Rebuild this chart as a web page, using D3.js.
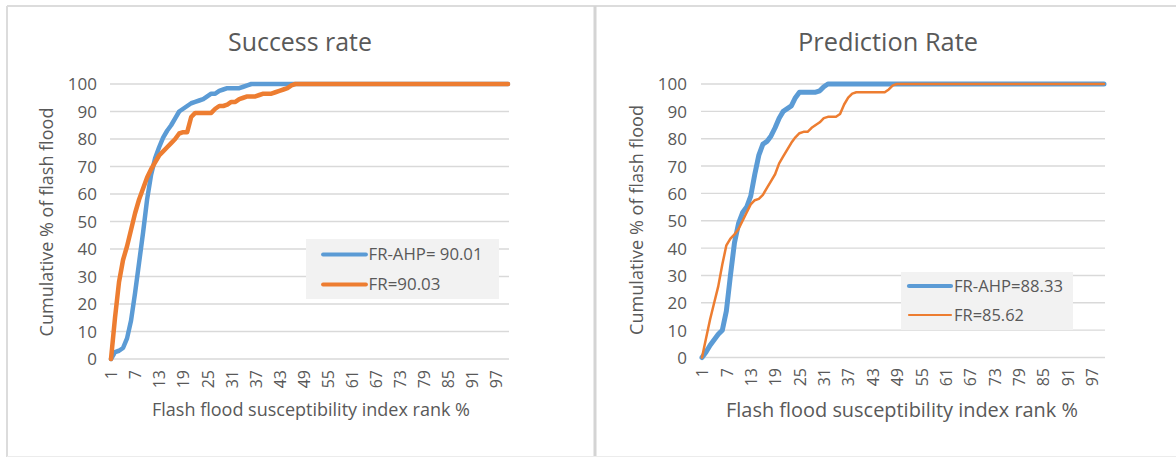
<!DOCTYPE html>
<html>
<head>
<meta charset="utf-8">
<script src="https://cdn.jsdelivr.net/npm/d3@7"></script>
<style>
  body { margin: 0; background: #ffffff; }
  svg { display: block; font-family: "Open Sans", "Noto Sans", sans-serif; }
</style>
</head>
<body>
<svg id="chart" width="1176" height="457"></svg>
<script>
// ---------------- DATA ----------------
const categories = d3.range(1, 101); // flash flood susceptibility index rank %, 1..100
const xTickLabels = [1, 7, 13, 19, 25, 31, 37, 43, 49, 55, 61, 67, 73, 79, 85, 91, 97];
const yTickValues = [0, 10, 20, 30, 40, 50, 60, 70, 80, 90, 100];

const successAHP = [
  0, 2.5, 3, 4, 7.5, 14, 24, 35, 46, 58,
  67, 73, 77, 80.5, 83, 85, 87.5, 90, 91, 92,
  93, 93.5, 94, 94.5, 95.5, 96.5, 96.5, 97.5, 98, 98.5,
  98.5, 98.5, 98.5, 99, 99.5, 100, 100, 100, 100, 100,
  100, 100, 100, 100, 100, 100, 100, 100, 100, 100,
  100, 100, 100, 100, 100, 100, 100, 100, 100, 100,
  100, 100, 100, 100, 100, 100, 100, 100, 100, 100,
  100, 100, 100, 100, 100, 100, 100, 100, 100, 100,
  100, 100, 100, 100, 100, 100, 100, 100, 100, 100,
  100, 100, 100, 100, 100, 100, 100, 100, 100, 100
];
const successFR = [
  0, 15, 28, 36, 41, 47, 53, 58, 62, 66,
  69, 71.5, 74, 75.5, 77, 78.5, 80, 82, 82.5, 82.5,
  88, 89.5, 89.5, 89.5, 89.5, 89.5, 91, 92, 92, 92.5,
  93.5, 93.5, 94.5, 95, 95.5, 95.5, 95.5, 96, 96.5, 96.5,
  96.5, 97, 97.5, 98, 98.5, 99.5, 100, 100, 100, 100,
  100, 100, 100, 100, 100, 100, 100, 100, 100, 100,
  100, 100, 100, 100, 100, 100, 100, 100, 100, 100,
  100, 100, 100, 100, 100, 100, 100, 100, 100, 100,
  100, 100, 100, 100, 100, 100, 100, 100, 100, 100,
  100, 100, 100, 100, 100, 100, 100, 100, 100, 100
];
const predictionAHP = [
  0, 2, 4.5, 6.5, 8.5, 10, 17, 30, 42, 49,
  53, 55, 59, 67, 74, 78, 79, 81, 84, 87.5,
  90, 91, 92, 95, 97, 97, 97, 97, 97, 97.5,
  99, 100, 100, 100, 100, 100, 100, 100, 100, 100,
  100, 100, 100, 100, 100, 100, 100, 100, 100, 100,
  100, 100, 100, 100, 100, 100, 100, 100, 100, 100,
  100, 100, 100, 100, 100, 100, 100, 100, 100, 100,
  100, 100, 100, 100, 100, 100, 100, 100, 100, 100,
  100, 100, 100, 100, 100, 100, 100, 100, 100, 100,
  100, 100, 100, 100, 100, 100, 100, 100, 100, 100
];
const predictionFR = [
  0, 7, 14, 20, 26, 34, 41, 43.5, 45, 47,
  50, 53, 56, 57.5, 58, 59.5, 62, 64.5, 67, 71,
  73.5, 76, 78.5, 80.5, 82, 82.5, 82.5, 84, 85, 86,
  87.5, 88, 88, 88, 89, 92.5, 95, 96.5, 97, 97,
  97, 97, 97, 97, 97, 97, 98, 99.5, 100, 100,
  100, 100, 100, 100, 100, 100, 100, 100, 100, 100,
  100, 100, 100, 100, 100, 100, 100, 100, 100, 100,
  100, 100, 100, 100, 100, 100, 100, 100, 100, 100,
  100, 100, 100, 100, 100, 100, 100, 100, 100, 100,
  100, 100, 100, 100, 100, 100, 100, 100, 100, 100
];
const successLegend = ["FR-AHP= 90.01", "FR=90.03"];
const predictionLegend = ["FR-AHP=88.33", "FR=85.62"];
const chartTitles = ["Success rate", "Prediction Rate"];
const xAxisTitle = "Flash flood susceptibility index rank %";
const yAxisTitle = "Cumulative % of flash flood";

// ---------------- STYLE / LAYOUT ----------------
const BLUE = "#5b9bd5", ORANGE = "#ed7d31", GRID = "#d9d9d9", TEXT = "#595959";
const svg = d3.select("#chart");

// frame lines of the two chart panels
const frame = svg.append("g").attr("stroke", "#dcdcdc").attr("fill", "none");
frame.append("line").attr("x1", 7).attr("x2", 1176).attr("y1", 6).attr("y2", 6).attr("stroke-width", 2);
frame.append("line").attr("x1", 7).attr("x2", 7).attr("y1", 6).attr("y2", 457).attr("stroke-width", 2);
frame.append("line").attr("x1", 595).attr("x2", 595).attr("y1", 6).attr("y2", 457).attr("stroke-width", 3).attr("stroke", "#d4d4d4");
frame.append("line").attr("x1", 7).attr("x2", 1176).attr("y1", 456.5).attr("y2", 456.5).attr("stroke-width", 1).attr("stroke", "#ececec");

function fitWidth(sel, target) {
  const w = sel.node().getComputedTextLength();
  const fs = parseFloat(sel.attr("font-size"));
  sel.attr("font-size", (fs * target / w).toFixed(2));
}

function drawChart(cfg) {
  const g = svg.append("g");
  const x = d3.scalePoint().domain(categories).range(cfg.xRange);
  const y = d3.scaleLinear().domain([0, 100]).range(cfg.yRange);

  // gridlines
  g.append("g").selectAll("line").data(yTickValues).join("line")
    .attr("x1", cfg.xRange[0] - 1).attr("x2", cfg.xRange[1] + 1)
    .attr("y1", d => y(d)).attr("y2", d => y(d))
    .attr("stroke", GRID).attr("stroke-width", 1.4);

  // y axis (labels only)
  const yAxis = g.append("g").attr("transform", `translate(${cfg.yLabelX},0)`)
    .call(d3.axisLeft(y).tickValues(yTickValues).tickSize(0).tickPadding(0));
  yAxis.select(".domain").remove();
  yAxis.selectAll("text").attr("fill", TEXT).attr("font-size", cfg.tickFont)
    .attr("font-family", "'Open Sans', sans-serif").attr("dy", "0.35em");

  // x axis (rotated labels only)
  const xAxis = g.append("g").attr("transform", `translate(0,${cfg.xLabelY})`)
    .call(d3.axisBottom(x).tickValues(xTickLabels).tickSize(0).tickPadding(0));
  xAxis.select(".domain").remove();
  xAxis.selectAll("text")
    .attr("fill", TEXT).attr("font-size", cfg.xTickFont)
    .attr("font-family", "'Open Sans', sans-serif")
    .attr("transform", "rotate(-90)")
    .attr("text-anchor", "end")
    .attr("x", 0).attr("y", 0).attr("dy", "0.36em");

  // lines
  const line = d3.line().x((d, i) => x(categories[i])).y(d => y(d));
  cfg.series.forEach(s => {
    g.append("path").datum(s.values)
      .attr("d", line).attr("fill", "none")
      .attr("stroke", s.color).attr("stroke-width", s.width)
      .attr("stroke-linejoin", "round").attr("stroke-linecap", "round");
  });

  // title
  const t = g.append("text").text(cfg.title)
    .attr("x", cfg.titlePos[0]).attr("y", cfg.titlePos[1])
    .attr("text-anchor", "middle").attr("fill", TEXT).attr("font-size", 22);
  fitWidth(t, cfg.titleWidth);

  // axis titles
  const xt = g.append("text").text(xAxisTitle)
    .attr("x", cfg.xTitlePos[0]).attr("y", cfg.xTitlePos[1])
    .attr("text-anchor", "middle").attr("fill", TEXT).attr("font-size", 17);
  fitWidth(xt, cfg.xTitleWidth);
  const yt = g.append("text").text(yAxisTitle)
    .attr("transform", `translate(${cfg.yTitlePos[0]},${cfg.yTitlePos[1]}) rotate(-90)`)
    .attr("text-anchor", "middle").attr("fill", TEXT).attr("font-size", 17);
  fitWidth(yt, cfg.yTitleWidth);

  // legend
  const L = cfg.legend;
  const lg = g.append("g");
  lg.append("rect").attr("x", L.box[0]).attr("y", L.box[1])
    .attr("width", L.box[2]).attr("height", L.box[3]).attr("fill", "#f2f2f2");
  cfg.series.forEach((s, i) => {
    const ly = L.rows[i];
    lg.append("line").attr("x1", L.lineX[0]).attr("x2", L.lineX[1])
      .attr("y1", ly).attr("y2", ly).attr("stroke", s.color)
      .attr("stroke-width", L.widths[i]).attr("stroke-linecap", "round");
    const tx = lg.append("text").text(cfg.legendLabels[i])
      .attr("x", L.textX).attr("y", ly).attr("dy", "0.35em")
      .attr("fill", TEXT).attr("font-size", 16);
    fitWidth(tx, L.textWidths[i]);
  });
}

drawChart({
  title: chartTitles[0],
  titlePos: [300, 51], titleWidth: 144,
  xRange: [111, 508], yRange: [359, 84],
  yLabelX: 97, xLabelY: 370, tickFont: 17, xTickFont: 16,
  xTitlePos: [311, 416], xTitleWidth: 318,
  yTitlePos: [53, 222], yTitleWidth: 229,
  series: [
    { values: successAHP, color: BLUE, width: 4.5 },
    { values: successFR, color: ORANGE, width: 4.5 }
  ],
  legendLabels: successLegend,
  legend: { box: [306, 239, 193, 60], lineX: [323, 366], rows: [254.5, 284.5],
            widths: [3.8, 3.8], textX: 368.5, textWidths: [114, 72] }
});

drawChart({
  title: chartTitles[1],
  titlePos: [888, 51], titleWidth: 180,
  xRange: [702, 1104], yRange: [357.5, 84],
  yLabelX: 687, xLabelY: 368, tickFont: 17, xTickFont: 16,
  xTitlePos: [902, 416.5], xTitleWidth: 352,
  yTitlePos: [643, 220], yTitleWidth: 230,
  series: [
    { values: predictionAHP, color: BLUE, width: 5 },
    { values: predictionFR, color: ORANGE, width: 2.5 }
  ],
  legendLabels: predictionLegend,
  legend: { box: [901, 272, 172, 58], lineX: [909, 951], rows: [286, 315],
            widths: [4.2, 2.2], textX: 954, textWidths: [109, 70] }
});
</script>
</body>
</html>
